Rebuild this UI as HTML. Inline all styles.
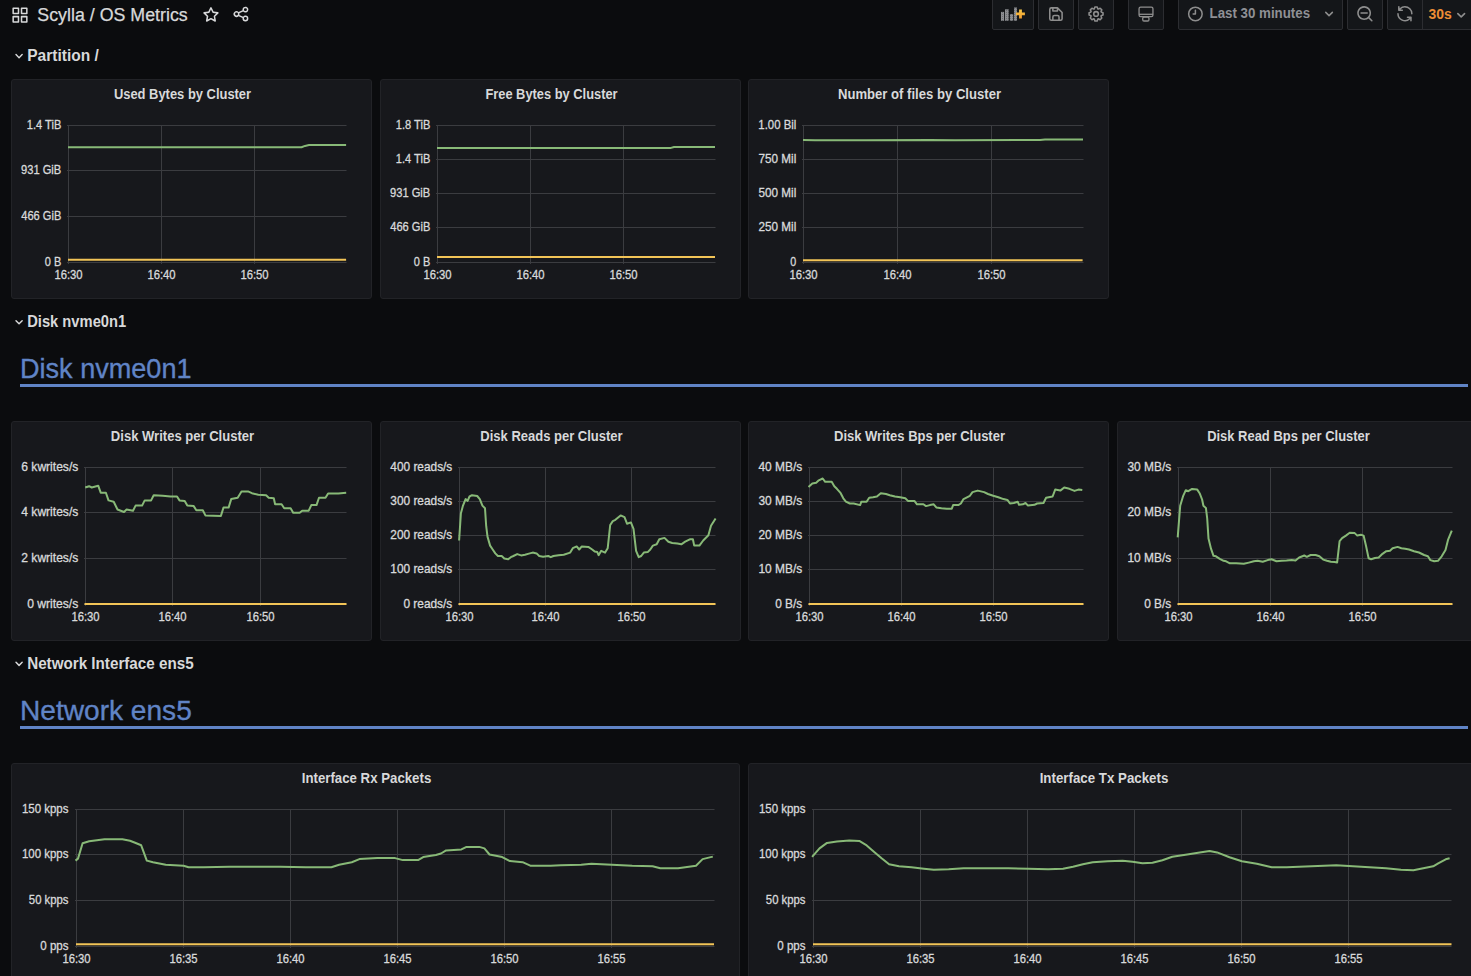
<!DOCTYPE html>
<html><head><meta charset="utf-8"><title>Scylla / OS Metrics</title><style>
html,body{margin:0;padding:0;background:#0b0c0e;width:1471px;height:976px;overflow:hidden;}
svg{position:absolute;left:0;top:0;display:block;}
text{font-family:"Liberation Sans", sans-serif;}
.ax{font-size:12px;fill:#d8d9da;stroke:#d8d9da;stroke-width:0.3px;}
.pt{font-size:14px;font-weight:bold;fill:#d8d9da;}
.rt{font-size:16px;font-weight:bold;fill:#d8d9da;}
.h1{font-size:28px;fill:#6084c6;stroke:#6084c6;stroke-width:0.35px;}
.tt{font-size:18px;fill:#d8d9da;stroke:#d8d9da;stroke-width:0.25px;}
.tp{font-size:14px;font-weight:bold;fill:#8f9095;}
.rr{font-size:14px;font-weight:bold;fill:#ec8d35;}
</style></head>
<body>
<svg width="1471" height="976" viewBox="0 0 1471 976">
<rect x="11.5" y="79.5" width="360" height="219" rx="2.5" fill="#17181c" stroke="#222327" stroke-width="1"/>
<text x="182.5" y="99" class="pt" text-anchor="middle" textLength="137.2" lengthAdjust="spacingAndGlyphs">Used Bytes by Cluster</text>
<line x1="67.0" y1="125.5" x2="346.5" y2="125.5" stroke="#3b3c40" stroke-width="1"/>
<line x1="67.0" y1="170.5" x2="346.5" y2="170.5" stroke="#3b3c40" stroke-width="1"/>
<line x1="67.0" y1="216.5" x2="346.5" y2="216.5" stroke="#3b3c40" stroke-width="1"/>
<line x1="67.0" y1="262.5" x2="346.5" y2="262.5" stroke="#3b3c40" stroke-width="1"/>
<line x1="68.5" y1="125.0" x2="68.5" y2="264.0" stroke="#3b3c40" stroke-width="1"/>
<line x1="161.5" y1="125.0" x2="161.5" y2="264.0" stroke="#3b3c40" stroke-width="1"/>
<line x1="254.5" y1="125.0" x2="254.5" y2="264.0" stroke="#3b3c40" stroke-width="1"/>
<text transform="translate(61.3,129.0) scale(0.925,1)" text-anchor="end" class="ax">1.4 TiB</text>
<text transform="translate(61.3,174.0) scale(0.931,1)" text-anchor="end" class="ax">931 GiB</text>
<text transform="translate(61.3,220.0) scale(0.924,1)" text-anchor="end" class="ax">466 GiB</text>
<text transform="translate(61.3,266.0) scale(0.917,1)" text-anchor="end" class="ax">0 B</text>
<text transform="translate(68.5,279.0) scale(0.94,1)" text-anchor="middle" class="ax">16:30</text>
<text transform="translate(161.5,279.0) scale(0.94,1)" text-anchor="middle" class="ax">16:40</text>
<text transform="translate(254.5,279.0) scale(0.94,1)" text-anchor="middle" class="ax">16:50</text>
<polyline points="68.0,259.8 346.1,259.8" fill="none" stroke="#f2c457" stroke-width="2" stroke-linejoin="round" stroke-linecap="butt"/>
<polyline points="68.0,147.3 301.5,147.2 305.0,145.9 309.0,145.1 346.1,145.1" fill="none" stroke="#88b977" stroke-width="2" stroke-linejoin="round" stroke-linecap="butt"/>
<rect x="380.5" y="79.5" width="360" height="219" rx="2.5" fill="#17181c" stroke="#222327" stroke-width="1"/>
<text x="551.5" y="99" class="pt" text-anchor="middle" textLength="132.2" lengthAdjust="spacingAndGlyphs">Free Bytes by Cluster</text>
<line x1="436.0" y1="125.5" x2="715.5" y2="125.5" stroke="#3b3c40" stroke-width="1"/>
<line x1="436.0" y1="159.5" x2="715.5" y2="159.5" stroke="#3b3c40" stroke-width="1"/>
<line x1="436.0" y1="193.5" x2="715.5" y2="193.5" stroke="#3b3c40" stroke-width="1"/>
<line x1="436.0" y1="227.5" x2="715.5" y2="227.5" stroke="#3b3c40" stroke-width="1"/>
<line x1="436.0" y1="262.5" x2="715.5" y2="262.5" stroke="#3b3c40" stroke-width="1"/>
<line x1="437.5" y1="125.0" x2="437.5" y2="264.0" stroke="#3b3c40" stroke-width="1"/>
<line x1="530.5" y1="125.0" x2="530.5" y2="264.0" stroke="#3b3c40" stroke-width="1"/>
<line x1="623.5" y1="125.0" x2="623.5" y2="264.0" stroke="#3b3c40" stroke-width="1"/>
<text transform="translate(430.3,129.0) scale(0.925,1)" text-anchor="end" class="ax">1.8 TiB</text>
<text transform="translate(430.3,163.0) scale(0.925,1)" text-anchor="end" class="ax">1.4 TiB</text>
<text transform="translate(430.3,197.0) scale(0.931,1)" text-anchor="end" class="ax">931 GiB</text>
<text transform="translate(430.3,231.0) scale(0.924,1)" text-anchor="end" class="ax">466 GiB</text>
<text transform="translate(430.3,266.0) scale(0.917,1)" text-anchor="end" class="ax">0 B</text>
<text transform="translate(437.5,279.0) scale(0.94,1)" text-anchor="middle" class="ax">16:30</text>
<text transform="translate(530.5,279.0) scale(0.94,1)" text-anchor="middle" class="ax">16:40</text>
<text transform="translate(623.5,279.0) scale(0.94,1)" text-anchor="middle" class="ax">16:50</text>
<polyline points="437.0,257.0 715.0,257.0" fill="none" stroke="#f2c457" stroke-width="2" stroke-linejoin="round" stroke-linecap="butt"/>
<polyline points="437.0,147.9 671.0,147.9 674.0,147.0 715.0,147.0" fill="none" stroke="#88b977" stroke-width="2" stroke-linejoin="round" stroke-linecap="butt"/>
<rect x="748.5" y="79.5" width="360" height="219" rx="2.5" fill="#17181c" stroke="#222327" stroke-width="1"/>
<text x="919.5" y="99" class="pt" text-anchor="middle" textLength="163.1" lengthAdjust="spacingAndGlyphs">Number of files by Cluster</text>
<line x1="802.0" y1="125.5" x2="1083.5" y2="125.5" stroke="#3b3c40" stroke-width="1"/>
<line x1="802.0" y1="159.5" x2="1083.5" y2="159.5" stroke="#3b3c40" stroke-width="1"/>
<line x1="802.0" y1="193.5" x2="1083.5" y2="193.5" stroke="#3b3c40" stroke-width="1"/>
<line x1="802.0" y1="227.5" x2="1083.5" y2="227.5" stroke="#3b3c40" stroke-width="1"/>
<line x1="802.0" y1="262.5" x2="1083.5" y2="262.5" stroke="#3b3c40" stroke-width="1"/>
<line x1="803.5" y1="125.0" x2="803.5" y2="264.0" stroke="#3b3c40" stroke-width="1"/>
<line x1="897.5" y1="125.0" x2="897.5" y2="264.0" stroke="#3b3c40" stroke-width="1"/>
<line x1="991.5" y1="125.0" x2="991.5" y2="264.0" stroke="#3b3c40" stroke-width="1"/>
<text transform="translate(796.3,129.0) scale(0.948,1)" text-anchor="end" class="ax">1.00 Bil</text>
<text transform="translate(796.3,163.0) scale(0.979,1)" text-anchor="end" class="ax">750 Mil</text>
<text transform="translate(796.3,197.0) scale(0.979,1)" text-anchor="end" class="ax">500 Mil</text>
<text transform="translate(796.3,231.0) scale(0.979,1)" text-anchor="end" class="ax">250 Mil</text>
<text transform="translate(796.3,266.0) scale(0.896,1)" text-anchor="end" class="ax">0</text>
<text transform="translate(803.5,279.0) scale(0.94,1)" text-anchor="middle" class="ax">16:30</text>
<text transform="translate(897.5,279.0) scale(0.94,1)" text-anchor="middle" class="ax">16:40</text>
<text transform="translate(991.5,279.0) scale(0.94,1)" text-anchor="middle" class="ax">16:50</text>
<polyline points="803.0,260.3 1082.6,260.3" fill="none" stroke="#f2c457" stroke-width="2" stroke-linejoin="round" stroke-linecap="butt"/>
<polyline points="803.0,139.9 815.0,140.3 865.0,140.3 930.0,139.9 955.0,140.3 1040.0,140.0 1045.0,139.6 1083.0,139.6" fill="none" stroke="#88b977" stroke-width="2" stroke-linejoin="round" stroke-linecap="butt"/>
<rect x="11.5" y="421.5" width="360" height="219" rx="2.5" fill="#17181c" stroke="#222327" stroke-width="1"/>
<text x="182.5" y="441" class="pt" text-anchor="middle" textLength="143.3" lengthAdjust="spacingAndGlyphs">Disk Writes per Cluster</text>
<line x1="84.0" y1="467.5" x2="346.5" y2="467.5" stroke="#3b3c40" stroke-width="1"/>
<line x1="84.0" y1="512.5" x2="346.5" y2="512.5" stroke="#3b3c40" stroke-width="1"/>
<line x1="84.0" y1="558.5" x2="346.5" y2="558.5" stroke="#3b3c40" stroke-width="1"/>
<line x1="84.0" y1="604.5" x2="346.5" y2="604.5" stroke="#3b3c40" stroke-width="1"/>
<line x1="85.5" y1="467.0" x2="85.5" y2="606.0" stroke="#3b3c40" stroke-width="1"/>
<line x1="172.5" y1="467.0" x2="172.5" y2="606.0" stroke="#3b3c40" stroke-width="1"/>
<line x1="260.5" y1="467.0" x2="260.5" y2="606.0" stroke="#3b3c40" stroke-width="1"/>
<text transform="translate(78.3,471.0) scale(1.007,1)" text-anchor="end" class="ax">6 kwrites/s</text>
<text transform="translate(78.3,516.0) scale(1.007,1)" text-anchor="end" class="ax">4 kwrites/s</text>
<text transform="translate(78.3,562.0) scale(1.007,1)" text-anchor="end" class="ax">2 kwrites/s</text>
<text transform="translate(78.3,608.0) scale(1.010,1)" text-anchor="end" class="ax">0 writes/s</text>
<text transform="translate(85.5,621.0) scale(0.94,1)" text-anchor="middle" class="ax">16:30</text>
<text transform="translate(172.5,621.0) scale(0.94,1)" text-anchor="middle" class="ax">16:40</text>
<text transform="translate(260.5,621.0) scale(0.94,1)" text-anchor="middle" class="ax">16:50</text>
<polyline points="84.5,604.0 346.5,604.0" fill="none" stroke="#f2c457" stroke-width="2" stroke-linejoin="round" stroke-linecap="butt"/>
<polyline points="85.2,487.5 89.1,486.2 91.7,487.5 98.2,485.7 100.7,492.7 105.9,492.7 108.5,500.4 113.7,501.7 117.5,509.5 124.0,512.0 126.6,509.5 133.0,510.7 135.6,505.6 142.1,505.6 144.7,500.4 151.1,500.4 153.7,495.2 162.7,495.8 170.5,496.5 177.0,496.5 179.5,500.4 184.7,500.9 187.3,505.6 193.7,506.1 196.3,510.2 202.8,510.2 205.4,515.4 220.9,515.9 223.5,507.6 228.6,507.6 231.2,499.1 237.7,497.8 241.5,491.4 248.0,491.4 251.9,493.2 258.3,494.7 266.1,495.2 268.7,497.8 273.8,498.3 275.1,504.3 281.6,504.3 284.2,508.2 290.6,508.2 293.2,512.8 299.7,512.8 302.2,510.7 308.7,510.7 311.3,505.1 316.5,505.1 319.0,497.8 325.5,497.8 328.1,493.4 338.4,493.4 346.2,492.7" fill="none" stroke="#88b977" stroke-width="2" stroke-linejoin="round" stroke-linecap="butt"/>
<rect x="380.5" y="421.5" width="360" height="219" rx="2.5" fill="#17181c" stroke="#222327" stroke-width="1"/>
<text x="551.5" y="441" class="pt" text-anchor="middle" textLength="142.3" lengthAdjust="spacingAndGlyphs">Disk Reads per Cluster</text>
<line x1="458.0" y1="467.5" x2="715.5" y2="467.5" stroke="#3b3c40" stroke-width="1"/>
<line x1="458.0" y1="501.5" x2="715.5" y2="501.5" stroke="#3b3c40" stroke-width="1"/>
<line x1="458.0" y1="535.5" x2="715.5" y2="535.5" stroke="#3b3c40" stroke-width="1"/>
<line x1="458.0" y1="569.5" x2="715.5" y2="569.5" stroke="#3b3c40" stroke-width="1"/>
<line x1="458.0" y1="604.5" x2="715.5" y2="604.5" stroke="#3b3c40" stroke-width="1"/>
<line x1="459.5" y1="467.0" x2="459.5" y2="606.0" stroke="#3b3c40" stroke-width="1"/>
<line x1="545.5" y1="467.0" x2="545.5" y2="606.0" stroke="#3b3c40" stroke-width="1"/>
<line x1="631.5" y1="467.0" x2="631.5" y2="606.0" stroke="#3b3c40" stroke-width="1"/>
<text transform="translate(452.3,471.0) scale(0.989,1)" text-anchor="end" class="ax">400 reads/s</text>
<text transform="translate(452.3,505.0) scale(0.989,1)" text-anchor="end" class="ax">300 reads/s</text>
<text transform="translate(452.3,539.0) scale(0.989,1)" text-anchor="end" class="ax">200 reads/s</text>
<text transform="translate(452.3,573.0) scale(0.989,1)" text-anchor="end" class="ax">100 reads/s</text>
<text transform="translate(452.3,608.0) scale(0.992,1)" text-anchor="end" class="ax">0 reads/s</text>
<text transform="translate(459.5,621.0) scale(0.94,1)" text-anchor="middle" class="ax">16:30</text>
<text transform="translate(545.5,621.0) scale(0.94,1)" text-anchor="middle" class="ax">16:40</text>
<text transform="translate(631.5,621.0) scale(0.94,1)" text-anchor="middle" class="ax">16:50</text>
<polyline points="458.5,604.0 715.5,604.0" fill="none" stroke="#f2c457" stroke-width="2" stroke-linejoin="round" stroke-linecap="butt"/>
<polyline points="459.1,540.5 460.9,513.3 463.0,505.6 465.6,499.1 467.6,500.9 469.5,496.5 472.0,495.2 477.2,496.0 479.8,499.1 482.4,505.6 485.0,508.2 486.2,526.2 487.5,536.6 490.1,545.6 492.7,549.5 495.3,553.4 497.9,556.0 501.7,556.0 504.3,558.5 508.2,559.3 510.8,557.2 513.4,556.0 517.2,554.1 521.1,555.4 525.0,554.7 528.9,553.6 532.7,552.6 536.6,553.4 539.2,556.0 543.1,556.7 548.2,556.0 550.8,557.2 553.4,556.0 558.6,555.2 563.7,554.7 570.2,552.6 572.8,548.2 576.7,546.4 579.2,549.5 581.8,546.4 588.3,546.9 592.2,549.5 594.7,551.6 597.3,552.1 598.6,555.2 601.2,550.8 605.1,552.6 607.7,548.2 610.2,525.0 612.8,521.1 615.4,519.8 620.6,515.4 624.5,517.2 627.0,523.7 630.9,522.4 633.5,528.8 636.1,550.8 638.7,557.2 641.2,556.0 643.8,552.6 647.7,552.1 650.3,549.5 652.9,545.6 656.7,544.3 659.3,539.2 664.5,537.9 668.4,541.7 672.2,543.0 677.4,543.6 681.3,544.3 685.2,541.7 690.3,539.2 692.9,539.2 694.2,545.6 699.4,545.6 703.2,540.5 708.4,535.3 711.0,525.7 715.6,518.5" fill="none" stroke="#88b977" stroke-width="2" stroke-linejoin="round" stroke-linecap="butt"/>
<rect x="748.5" y="421.5" width="360" height="219" rx="2.5" fill="#17181c" stroke="#222327" stroke-width="1"/>
<text x="919.5" y="441" class="pt" text-anchor="middle" textLength="171" lengthAdjust="spacingAndGlyphs">Disk Writes Bps per Cluster</text>
<line x1="808.0" y1="467.5" x2="1083.5" y2="467.5" stroke="#3b3c40" stroke-width="1"/>
<line x1="808.0" y1="501.5" x2="1083.5" y2="501.5" stroke="#3b3c40" stroke-width="1"/>
<line x1="808.0" y1="535.5" x2="1083.5" y2="535.5" stroke="#3b3c40" stroke-width="1"/>
<line x1="808.0" y1="569.5" x2="1083.5" y2="569.5" stroke="#3b3c40" stroke-width="1"/>
<line x1="808.0" y1="604.5" x2="1083.5" y2="604.5" stroke="#3b3c40" stroke-width="1"/>
<line x1="809.5" y1="467.0" x2="809.5" y2="606.0" stroke="#3b3c40" stroke-width="1"/>
<line x1="901.5" y1="467.0" x2="901.5" y2="606.0" stroke="#3b3c40" stroke-width="1"/>
<line x1="993.5" y1="467.0" x2="993.5" y2="606.0" stroke="#3b3c40" stroke-width="1"/>
<text transform="translate(802.3,471.0) scale(0.998,1)" text-anchor="end" class="ax">40 MB/s</text>
<text transform="translate(802.3,505.0) scale(0.998,1)" text-anchor="end" class="ax">30 MB/s</text>
<text transform="translate(802.3,539.0) scale(0.998,1)" text-anchor="end" class="ax">20 MB/s</text>
<text transform="translate(802.3,573.0) scale(0.998,1)" text-anchor="end" class="ax">10 MB/s</text>
<text transform="translate(802.3,608.0) scale(0.993,1)" text-anchor="end" class="ax">0 B/s</text>
<text transform="translate(809.5,621.0) scale(0.94,1)" text-anchor="middle" class="ax">16:30</text>
<text transform="translate(901.5,621.0) scale(0.94,1)" text-anchor="middle" class="ax">16:40</text>
<text transform="translate(993.5,621.0) scale(0.94,1)" text-anchor="middle" class="ax">16:50</text>
<polyline points="808.5,604.0 1083.5,604.0" fill="none" stroke="#f2c457" stroke-width="2" stroke-linejoin="round" stroke-linecap="butt"/>
<polyline points="808.5,487.0 812.3,483.6 816.2,482.8 818.8,480.3 822.7,478.5 825.2,481.8 831.7,481.8 834.3,486.2 836.9,488.8 840.7,493.2 843.3,498.3 845.9,501.7 849.8,503.5 853.7,503.5 860.1,505.1 861.4,501.7 866.6,501.7 869.2,497.8 873.0,497.3 876.9,496.5 880.8,493.2 886.0,494.0 889.8,495.2 895.0,496.5 900.2,497.3 905.3,498.3 907.9,500.9 914.4,500.9 917.0,504.3 923.4,504.3 926.0,506.1 929.9,505.1 933.7,504.3 936.3,507.4 941.5,508.2 946.7,508.7 951.8,508.7 953.1,505.1 958.3,505.1 960.9,503.5 963.5,499.1 969.9,495.8 972.5,492.1 977.7,490.6 984.1,492.1 988.0,494.0 993.2,495.8 998.3,497.3 1003.5,499.1 1007.4,499.9 1010.0,503.5 1013.8,503.0 1017.7,501.7 1019.0,504.8 1022.9,504.3 1025.5,503.0 1028.0,505.6 1034.5,504.8 1037.1,503.5 1043.5,503.0 1046.1,497.8 1052.6,496.5 1055.2,489.6 1060.3,490.6 1064.2,487.5 1069.4,488.8 1074.5,490.9 1078.4,489.6 1082.3,490.1" fill="none" stroke="#88b977" stroke-width="2" stroke-linejoin="round" stroke-linecap="butt"/>
<rect x="1117.5" y="421.5" width="360" height="219" rx="2.5" fill="#17181c" stroke="#222327" stroke-width="1"/>
<text x="1288.5" y="441" class="pt" text-anchor="middle" textLength="162.7" lengthAdjust="spacingAndGlyphs">Disk Read Bps per Cluster</text>
<line x1="1177.0" y1="467.5" x2="1452.5" y2="467.5" stroke="#3b3c40" stroke-width="1"/>
<line x1="1177.0" y1="512.5" x2="1452.5" y2="512.5" stroke="#3b3c40" stroke-width="1"/>
<line x1="1177.0" y1="558.5" x2="1452.5" y2="558.5" stroke="#3b3c40" stroke-width="1"/>
<line x1="1177.0" y1="604.5" x2="1452.5" y2="604.5" stroke="#3b3c40" stroke-width="1"/>
<line x1="1178.5" y1="467.0" x2="1178.5" y2="606.0" stroke="#3b3c40" stroke-width="1"/>
<line x1="1270.5" y1="467.0" x2="1270.5" y2="606.0" stroke="#3b3c40" stroke-width="1"/>
<line x1="1362.5" y1="467.0" x2="1362.5" y2="606.0" stroke="#3b3c40" stroke-width="1"/>
<text transform="translate(1171.3,471.0) scale(0.998,1)" text-anchor="end" class="ax">30 MB/s</text>
<text transform="translate(1171.3,516.0) scale(0.998,1)" text-anchor="end" class="ax">20 MB/s</text>
<text transform="translate(1171.3,562.0) scale(0.998,1)" text-anchor="end" class="ax">10 MB/s</text>
<text transform="translate(1171.3,608.0) scale(0.993,1)" text-anchor="end" class="ax">0 B/s</text>
<text transform="translate(1178.5,621.0) scale(0.94,1)" text-anchor="middle" class="ax">16:30</text>
<text transform="translate(1270.5,621.0) scale(0.94,1)" text-anchor="middle" class="ax">16:40</text>
<text transform="translate(1362.5,621.0) scale(0.94,1)" text-anchor="middle" class="ax">16:50</text>
<polyline points="1177.5,604.0 1452.5,604.0" fill="none" stroke="#f2c457" stroke-width="2" stroke-linejoin="round" stroke-linecap="butt"/>
<polyline points="1177.7,537.4 1180.2,505.8 1183.2,495.8 1185.8,490.2 1188.3,491.2 1192.1,488.9 1197.1,489.4 1199.6,493.2 1202.1,499.5 1203.4,505.8 1205.9,507.9 1207.2,518.5 1208.5,538.6 1211.0,548.7 1213.5,555.8 1216.0,556.3 1219.8,558.8 1223.6,560.8 1226.1,561.3 1229.9,563.3 1236.2,563.3 1243.8,563.8 1248.8,562.6 1253.8,561.3 1257.6,560.8 1262.7,561.8 1267.7,560.1 1271.5,559.3 1276.5,561.3 1281.6,560.8 1286.6,560.6 1291.7,560.1 1295.5,560.6 1299.2,557.5 1304.3,555.5 1306.8,556.8 1310.6,555.0 1315.6,555.0 1319.4,556.3 1323.2,559.6 1327.0,560.8 1330.8,561.8 1334.6,562.1 1337.1,562.6 1339.6,541.1 1342.1,538.1 1345.9,535.6 1349.7,532.8 1354.7,533.1 1357.3,535.6 1361.0,534.8 1363.6,535.6 1366.1,546.2 1368.6,558.3 1371.1,559.3 1374.9,558.0 1378.7,557.5 1382.5,553.8 1386.3,551.2 1390.0,550.7 1392.6,548.2 1397.6,546.9 1401.4,548.2 1405.2,548.7 1409.0,549.5 1414.0,551.2 1419.0,552.5 1424.1,555.0 1427.9,556.3 1430.4,560.1 1434.2,561.3 1438.0,560.8 1441.7,556.3 1445.5,550.0 1448.0,539.9 1451.8,530.6" fill="none" stroke="#88b977" stroke-width="2" stroke-linejoin="round" stroke-linecap="butt"/>
<rect x="11.5" y="763.5" width="728" height="236" rx="2.5" fill="#17181c" stroke="#222327" stroke-width="1"/>
<text x="366.5" y="783" class="pt" text-anchor="middle" textLength="129.5" lengthAdjust="spacingAndGlyphs">Interface Rx Packets</text>
<line x1="75.0" y1="809.5" x2="714.5" y2="809.5" stroke="#3b3c40" stroke-width="1"/>
<line x1="75.0" y1="854.5" x2="714.5" y2="854.5" stroke="#3b3c40" stroke-width="1"/>
<line x1="75.0" y1="900.5" x2="714.5" y2="900.5" stroke="#3b3c40" stroke-width="1"/>
<line x1="75.0" y1="946.5" x2="714.5" y2="946.5" stroke="#3b3c40" stroke-width="1"/>
<line x1="76.5" y1="809.0" x2="76.5" y2="948.0" stroke="#3b3c40" stroke-width="1"/>
<line x1="183.5" y1="809.0" x2="183.5" y2="948.0" stroke="#3b3c40" stroke-width="1"/>
<line x1="290.5" y1="809.0" x2="290.5" y2="948.0" stroke="#3b3c40" stroke-width="1"/>
<line x1="397.5" y1="809.0" x2="397.5" y2="948.0" stroke="#3b3c40" stroke-width="1"/>
<line x1="504.5" y1="809.0" x2="504.5" y2="948.0" stroke="#3b3c40" stroke-width="1"/>
<line x1="611.5" y1="809.0" x2="611.5" y2="948.0" stroke="#3b3c40" stroke-width="1"/>
<text transform="translate(68.5,813.0) scale(0.957,1)" text-anchor="end" class="ax">150 kpps</text>
<text transform="translate(68.5,858.0) scale(0.957,1)" text-anchor="end" class="ax">100 kpps</text>
<text transform="translate(68.5,904.0) scale(0.945,1)" text-anchor="end" class="ax">50 kpps</text>
<text transform="translate(68.5,950.0) scale(0.963,1)" text-anchor="end" class="ax">0 pps</text>
<text transform="translate(76.5,963.0) scale(0.94,1)" text-anchor="middle" class="ax">16:30</text>
<text transform="translate(183.5,963.0) scale(0.94,1)" text-anchor="middle" class="ax">16:35</text>
<text transform="translate(290.5,963.0) scale(0.94,1)" text-anchor="middle" class="ax">16:40</text>
<text transform="translate(397.5,963.0) scale(0.94,1)" text-anchor="middle" class="ax">16:45</text>
<text transform="translate(504.5,963.0) scale(0.94,1)" text-anchor="middle" class="ax">16:50</text>
<text transform="translate(611.5,963.0) scale(0.94,1)" text-anchor="middle" class="ax">16:55</text>
<polyline points="76.0,944.3 714.0,944.3" fill="none" stroke="#f2c457" stroke-width="2" stroke-linejoin="round" stroke-linecap="butt"/>
<polyline points="75.5,860.6 78.0,858.6 82.6,843.3 89.2,841.3 96.9,840.2 104.5,839.2 122.4,839.2 130.0,840.8 135.1,842.8 141.2,845.3 146.8,860.6 153.0,862.2 165.7,864.7 183.5,865.7 188.6,867.3 203.9,867.3 229.4,866.8 254.9,866.8 280.4,866.8 305.9,867.3 331.4,867.3 339.1,864.7 351.8,862.2 359.4,859.1 377.3,858.1 395.1,858.1 402.8,860.1 418.1,860.1 423.2,857.1 435.9,855.0 441.0,853.5 446.1,850.4 461.4,849.4 466.5,846.9 479.3,846.9 484.4,848.4 489.5,854.5 502.2,857.1 509.9,861.1 522.6,862.2 530.3,865.7 550.6,865.7 560.8,865.2 581.2,864.7 591.4,863.7 611.8,864.7 632.2,865.7 652.6,866.2 660.3,868.3 678.1,868.3 696.0,865.7 702.6,859.1 712.8,856.6" fill="none" stroke="#88b977" stroke-width="2" stroke-linejoin="round" stroke-linecap="butt"/>
<rect x="748.5" y="763.5" width="729" height="236" rx="2.5" fill="#17181c" stroke="#222327" stroke-width="1"/>
<text x="1104.0" y="783" class="pt" text-anchor="middle" textLength="128.7" lengthAdjust="spacingAndGlyphs">Interface Tx Packets</text>
<line x1="812.0" y1="809.5" x2="1451.5" y2="809.5" stroke="#3b3c40" stroke-width="1"/>
<line x1="812.0" y1="854.5" x2="1451.5" y2="854.5" stroke="#3b3c40" stroke-width="1"/>
<line x1="812.0" y1="900.5" x2="1451.5" y2="900.5" stroke="#3b3c40" stroke-width="1"/>
<line x1="812.0" y1="946.5" x2="1451.5" y2="946.5" stroke="#3b3c40" stroke-width="1"/>
<line x1="813.5" y1="809.0" x2="813.5" y2="948.0" stroke="#3b3c40" stroke-width="1"/>
<line x1="920.5" y1="809.0" x2="920.5" y2="948.0" stroke="#3b3c40" stroke-width="1"/>
<line x1="1027.5" y1="809.0" x2="1027.5" y2="948.0" stroke="#3b3c40" stroke-width="1"/>
<line x1="1134.5" y1="809.0" x2="1134.5" y2="948.0" stroke="#3b3c40" stroke-width="1"/>
<line x1="1241.5" y1="809.0" x2="1241.5" y2="948.0" stroke="#3b3c40" stroke-width="1"/>
<line x1="1348.5" y1="809.0" x2="1348.5" y2="948.0" stroke="#3b3c40" stroke-width="1"/>
<text transform="translate(805.5,813.0) scale(0.957,1)" text-anchor="end" class="ax">150 kpps</text>
<text transform="translate(805.5,858.0) scale(0.957,1)" text-anchor="end" class="ax">100 kpps</text>
<text transform="translate(805.5,904.0) scale(0.945,1)" text-anchor="end" class="ax">50 kpps</text>
<text transform="translate(805.5,950.0) scale(0.963,1)" text-anchor="end" class="ax">0 pps</text>
<text transform="translate(813.5,963.0) scale(0.94,1)" text-anchor="middle" class="ax">16:30</text>
<text transform="translate(920.5,963.0) scale(0.94,1)" text-anchor="middle" class="ax">16:35</text>
<text transform="translate(1027.5,963.0) scale(0.94,1)" text-anchor="middle" class="ax">16:40</text>
<text transform="translate(1134.5,963.0) scale(0.94,1)" text-anchor="middle" class="ax">16:45</text>
<text transform="translate(1241.5,963.0) scale(0.94,1)" text-anchor="middle" class="ax">16:50</text>
<text transform="translate(1348.5,963.0) scale(0.94,1)" text-anchor="middle" class="ax">16:55</text>
<polyline points="813.0,944.3 1451.5,944.3" fill="none" stroke="#f2c457" stroke-width="2" stroke-linejoin="round" stroke-linecap="butt"/>
<polyline points="812.1,856.8 819.5,848.4 827.0,842.9 836.9,841.4 849.3,840.4 859.3,840.9 866.7,845.4 874.2,851.9 881.6,858.3 889.1,864.3 899.0,866.3 911.4,867.3 923.9,868.8 933.8,869.8 948.7,869.3 963.6,868.3 988.5,868.3 1008.3,868.3 1028.2,868.8 1048.1,869.3 1063.0,868.8 1073.0,866.8 1082.9,864.3 1092.8,862.3 1107.7,861.3 1122.6,860.8 1132.6,861.8 1142.5,863.3 1152.5,862.8 1162.4,860.3 1172.3,856.8 1187.2,854.4 1199.7,852.4 1209.6,850.9 1217.1,852.4 1229.5,857.3 1241.9,861.3 1256.8,863.8 1271.7,867.3 1286.6,867.3 1311.5,866.3 1336.3,865.3 1361.2,866.8 1386.0,868.3 1400.9,869.8 1413.4,870.3 1420.8,868.8 1433.2,866.3 1438.2,863.3 1445.7,859.3 1449.6,858.3" fill="none" stroke="#88b977" stroke-width="2" stroke-linejoin="round" stroke-linecap="butt"/>
<path transform="translate(10.43,47.50) scale(0.72)" d="M17,9.17a1,1,0,0,0-1.41,0L12,12.71,8.46,9.17a1,1,0,0,0-1.41,0,1,1,0,0,0,0,1.42l4.24,4.24a1,1,0,0,0,1.42,0L17,10.59A1,1,0,0,0,17,9.17Z" fill="#d8d9da"/>
<text x="27.2" y="60.8" class="rt" textLength="71.6" lengthAdjust="spacingAndGlyphs">Partition /</text>
<path transform="translate(10.43,313.60) scale(0.72)" d="M17,9.17a1,1,0,0,0-1.41,0L12,12.71,8.46,9.17a1,1,0,0,0-1.41,0,1,1,0,0,0,0,1.42l4.24,4.24a1,1,0,0,0,1.42,0L17,10.59A1,1,0,0,0,17,9.17Z" fill="#d8d9da"/>
<text x="27.2" y="326.9" class="rt" textLength="99" lengthAdjust="spacingAndGlyphs">Disk nvme0n1</text>
<path transform="translate(10.43,655.20) scale(0.72)" d="M17,9.17a1,1,0,0,0-1.41,0L12,12.71,8.46,9.17a1,1,0,0,0-1.41,0,1,1,0,0,0,0,1.42l4.24,4.24a1,1,0,0,0,1.42,0L17,10.59A1,1,0,0,0,17,9.17Z" fill="#d8d9da"/>
<text x="27.2" y="668.5" class="rt" textLength="166.4" lengthAdjust="spacingAndGlyphs">Network Interface ens5</text>
<text x="20" y="378" class="h1" textLength="171.5" lengthAdjust="spacingAndGlyphs">Disk nvme0n1</text>
<rect x="20" y="384" width="1448" height="3" fill="#6084c6"/>
<text x="20" y="720" class="h1" textLength="171.8" lengthAdjust="spacingAndGlyphs">Network ens5</text>
<rect x="20" y="726" width="1448" height="3" fill="#6084c6"/>
<path transform="translate(10.88,5.98) scale(0.760)" d="M10,13H3a1,1,0,0,0-1,1v7a1,1,0,0,0,1,1h7a1,1,0,0,0,1-1V14A1,1,0,0,0,10,13ZM9,20H4V15H9ZM21,2H14a1,1,0,0,0-1,1v7a1,1,0,0,0,1,1h7a1,1,0,0,0,1-1V3A1,1,0,0,0,21,2ZM20,9H15V4h5Zm1,4H14a1,1,0,0,0-1,1v7a1,1,0,0,0,1,1h7a1,1,0,0,0,1-1V14A1,1,0,0,0,21,13Zm-1,7H15V15h5ZM10,2H3A1,1,0,0,0,2,3v7a1,1,0,0,0,1,1h7a1,1,0,0,0,1-1V3A1,1,0,0,0,10,2ZM9,9H4V4H9Z" fill="#d8d9da"/>
<text x="37.3" y="21" class="tt" textLength="150.4" lengthAdjust="spacingAndGlyphs">Scylla / OS Metrics</text>
<path transform="translate(201.77,5.23) scale(0.765)" d="M22,9.67A1,1,0,0,0,21.14,9l-5.69-.83L12.9,3a1,1,0,0,0-1.8,0L8.55,8.16,2.86,9a1,1,0,0,0-.81.68,1,1,0,0,0,.25,1l4.130,4-1,5.68A1,1,0,0,0,6.9,21.44L12,18.77l5.1,2.67a.93.93,0,0,0,.46.12,1,1,0,0,0,.59-.19,1,1,0,0,0,.4-1l-1-5.68,4.13-4A1,1,0,0,0,22,9.67Zm-6.15,4a1,1,0,0,0-.29.88l.72,4.2-3.76-2a1.06,1.06,0,0,0-.94,0l-3.76,2,.72-4.2a1,1,0,0,0-.29-.88l-3-3,4.21-.61a1,1,0,0,0,.76-.55L12,5.7l1.88,3.82a1,1,0,0,0,.76.55l4.21.61Z" fill="#d8d9da"/>
<path transform="translate(232.10,5.20) scale(0.740)" d="M18,14a4,4,0,0,0-3.08,1.48l-5.1-2.35a3.64,3.64,0,0,0,0-2.26l5.1-2.35A4,4,0,1,0,14,6a4.17,4.17,0,0,0,.07.71L8.79,9.14a4,4,0,1,0,0,5.720l5.28,2.43A4.170,4.170,0,0,0,14,18a4,4,0,1,0,4-4ZM18,4a2,2,0,1,1-2,2A2,2,0,0,1,18,4ZM6,14a2,2,0,1,1,2-2A2,2,0,0,1,6,14Zm12,6a2,2,0,1,1,2-2A2,2,0,0,1,18,20Z" fill="#d8d9da"/>
<rect x="992.5" y="-3.5" width="41" height="33" rx="1.5" fill="#141619" stroke="#2c2d31" stroke-width="1"/>
<rect x="1038.5" y="-3.5" width="35" height="33" rx="1.5" fill="#141619" stroke="#2c2d31" stroke-width="1"/>
<rect x="1078.5" y="-3.5" width="35" height="33" rx="1.5" fill="#141619" stroke="#2c2d31" stroke-width="1"/>
<rect x="1128.5" y="-3.5" width="35" height="33" rx="1.5" fill="#141619" stroke="#2c2d31" stroke-width="1"/>
<rect x="1178.5" y="-3.5" width="164" height="33" rx="1.5" fill="#141619" stroke="#2c2d31" stroke-width="1"/>
<rect x="1347.5" y="-3.5" width="35" height="33" rx="1.5" fill="#141619" stroke="#2c2d31" stroke-width="1"/>
<rect x="1387.5" y="-3.5" width="92" height="33" rx="1.5" fill="#141619" stroke="#2c2d31" stroke-width="1"/>
<line x1="1422.5" y1="0" x2="1422.5" y2="29.5" stroke="#2c2d31" stroke-width="1"/>
<defs><pattern id="dots" width="2" height="2" patternUnits="userSpaceOnUse"><rect width="2" height="2" fill="#8c8d91"/><rect width="1" height="1" fill="#6e6f73"/></pattern><linearGradient id="plusg" x1="0" y1="0" x2="0" y2="1"><stop offset="0" stop-color="#f7c948"/><stop offset="1" stop-color="#f19a2c"/></linearGradient></defs>
<rect x="1001" y="11.9" width="3.1" height="8.9" fill="url(#dots)"/>
<rect x="1005" y="9.3" width="3.7" height="11.5" fill="url(#dots)"/>
<rect x="1009.9" y="14.1" width="3.3" height="6.7" fill="url(#dots)"/>
<rect x="1014" y="7.5" width="3.0" height="13.3" fill="url(#dots)"/>
<path d="M1016 13.9 h8.9 M1020.5 9.6 v8.8" stroke="url(#plusg)" stroke-width="2.8"/>
<path transform="translate(1046.70,4.80) scale(0.770)" d="M20.71,9.29l-6-6a1,1,0,0,0-.32-.21A1.09,1.09,0,0,0,14,3H6A3,3,0,0,0,3,6V18a3,3,0,0,0,3,3H18a3,3,0,0,0,3-3V10A1,1,0,0,0,20.71,9.29ZM9,5h4V7H9Zm6,14H9V16a1,1,0,0,1,1-1h4a1,1,0,0,1,1,1Zm4-1a1,1,0,0,1-1,1H17V16a3,3,0,0,0-3-3H10a3,3,0,0,0-3,3v3H6a1,1,0,0,1-1-1V6A1,1,0,0,1,6,5H7V8A1,1,0,0,0,8,9h6a1,1,0,0,0,1-1V6.41l4,4Z" fill="#8e8e8e"/>
<path transform="translate(1086.75,4.65) scale(0.775)" d="M21.32,9.55l-1.89-.63.89-1.78A1,1,0,0,0,20.13,6L18,3.87a1,1,0,0,0-1.15-.19l-1.78.89-.63-1.89A1,1,0,0,0,13.5,2h-3a1,1,0,0,0-.95.68L8.92,4.57,7.140,3.68A1,1,0,0,0,6,3.87L3.87,6a1,1,0,0,0-.19,1.15l.89,1.78-1.89.63A1,1,0,0,0,2,10.5v3a1,1,0,0,0,.68.95l1.89.63-.89,1.78A1,1,0,0,0,3.87,18L6,20.13a1,1,0,0,0,1.15.19l1.78-.89.63,1.89a1,1,0,0,0,.95.68h3a1,1,0,0,0,.95-.68l.63-1.89,1.78.89A1,1,0,0,0,18,20.13L20.13,18a1,1,0,0,0,.19-1.15l-.89-1.78,1.89-.63A1,1,0,0,0,22,13.5v-3A1,1,0,0,0,21.32,9.55ZM20,12.78l-1.2.4A2,2,0,0,0,17.64,16l.57,1.14-1.1,1.1L16,17.64a2,2,0,0,0-2.79,1.16L12.78,20H11.22l-.4-1.2A2,2,0,0,0,8,17.64l-1.14.57-1.1-1.1L6.36,16A2,2,0,0,0,5.2,13.18L4,12.78V11.22l1.2-.4A2,2,0,0,0,6.36,8L5.79,6.89l1.1-1.1L8,6.36A2,2,0,0,0,10.82,5.2L11.22,4h1.56l.4,1.2A2,2,0,0,0,16,6.36l1.14-.57,1.1,1.1L17.64,8a2,2,0,0,0,1.16,2.79l1.2.4ZM12,8a4,4,0,1,0,4,4A4,4,0,0,0,12,8Zm0,6a2,2,0,1,1,2-2A2,2,0,0,1,12,14Z" fill="#8e8e8e"/>
<g fill="none" stroke="#8e8e8e" stroke-width="1.3"><rect x="1139.05" y="7.05" width="13.9" height="9.6" rx="1.6"/><line x1="1139" y1="14.3" x2="1153" y2="14.3"/><rect x="1142.75" y="17" width="6.2" height="4" rx="1.2"/></g>
<path transform="translate(1186.40,4.90) scale(0.750)" d="M12,2A10,10,0,1,0,22,12,10.01114,10.01114,0,0,0,12,2Zm0,18a8,8,0,1,1,8-8A8.00917,8.00917,0,0,1,12,20Zm0-14a1,1,0,0,0-1,1v4H9a1,1,0,0,0,0,2h3a1,1,0,0,0,1-1V7A1,1,0,0,0,12,6Z" fill="#8e8e8e"/>
<text x="1209.5" y="18" class="tp" textLength="100.6" lengthAdjust="spacingAndGlyphs">Last 30 minutes</text>
<path transform="translate(1319.80,4.76) scale(0.770)" d="M17,9.17a1,1,0,0,0-1.41,0L12,12.71,8.46,9.17a1,1,0,0,0-1.41,0,1,1,0,0,0,0,1.42l4.24,4.24a1,1,0,0,0,1.42,0L17,10.59A1,1,0,0,0,17,9.17Z" fill="#8e8e8e"/>
<path transform="translate(1355.66,4.56) scale(0.770)" d="M21.71,20.29,18,16.61A9,9,0,1,0,16.61,18l3.68,3.68a1,1,0,0,0,1.42,0A1,1,0,0,0,21.71,20.29ZM11,18a7,7,0,1,1,7-7A7,7,0,0,1,11,18Zm4-8H7a1,1,0,0,0,0,2h8a1,1,0,0,0,0-2Z" fill="#8e8e8e"/>
<path transform="translate(1395.66,4.46) scale(0.770)" d="M19.91,15.51H15.38a1,1,0,0,0,0,2h2.4A8,8,0,0,1,4,12a1,1,0,0,0-2,0,10,10,0,0,0,16.88,7.23V21a1,1,0,0,0,2,0V16.5A1,1,0,0,0,19.91,15.51ZM12,2A10,10,0,0,0,5.12,4.77V3a1,1,0,0,0-2,0V7.5a1,1,0,0,0,1,1h4.5a1,1,0,0,0,0-2H6.22A8,8,0,0,1,20,12a1,1,0,0,0,2,0A10,10,0,0,0,12,2Z" fill="#8e8e8e"/>
<text x="1428.6" y="19" class="rr" textLength="23.2" lengthAdjust="spacingAndGlyphs">30s</text>
<path transform="translate(1451.70,5.76) scale(0.790)" d="M17,9.17a1,1,0,0,0-1.41,0L12,12.71,8.46,9.17a1,1,0,0,0-1.41,0,1,1,0,0,0,0,1.42l4.24,4.24a1,1,0,0,0,1.42,0L17,10.59A1,1,0,0,0,17,9.17Z" fill="#8e8e8e"/>
</svg>
</body></html>
